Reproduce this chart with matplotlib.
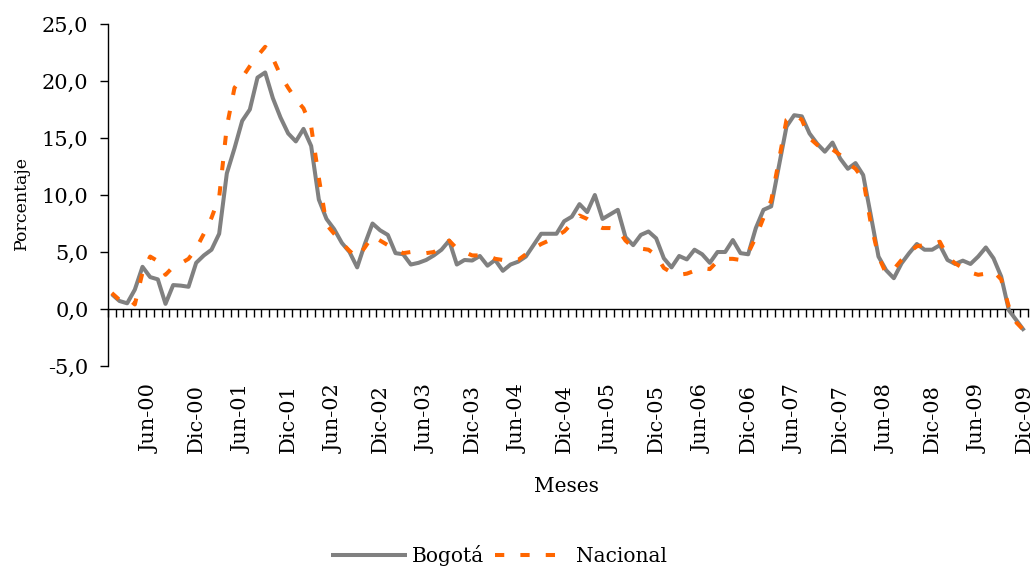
import numpy as np
import matplotlib
matplotlib.use("Agg")
import matplotlib.pyplot as plt
from matplotlib.ticker import FixedLocator, FixedFormatter, NullFormatter

plt.rcParams['font.family'] = ['DejaVu Serif']

# Monthly series, Jan-2000 .. Dec-2009 (percent)
bogota = [
    1.3, 0.7, 0.5, 1.7, 3.7, 2.8, 2.6, 0.45, 2.1, 2.05, 1.95, 4.05,
    4.7, 5.2, 6.6, 11.9, 14.1, 16.5, 17.5, 20.3, 20.75, 18.5, 16.8, 15.4,
    14.7, 15.8, 14.3, 9.6, 7.9, 7.0, 5.8, 5.0, 3.65, 5.7, 7.5, 6.9,
    6.5, 4.9, 4.8, 3.9, 4.05, 4.3, 4.7, 5.2, 6.0, 3.9, 4.3, 4.25,
    4.65, 3.8, 4.3, 3.35, 3.9, 4.15, 4.6, 5.6, 6.6, 6.6, 6.6, 7.7,
    8.1, 9.2, 8.5, 10.0, 7.9, 8.3, 8.7, 6.3, 5.6, 6.5, 6.8, 6.2,
    4.45, 3.65, 4.65, 4.35, 5.2, 4.8, 4.05, 5.0, 5.0, 6.05, 4.9, 4.8,
    7.1, 8.7, 9.0, 12.5, 16.0, 17.0, 16.9, 15.4, 14.5, 13.8, 14.6, 13.2,
    12.3, 12.8, 11.75, 8.2, 4.6, 3.4, 2.7, 4.0, 4.9, 5.7, 5.2, 5.2,
    5.6, 4.3, 3.95, 4.24, 3.95, 4.6, 5.4, 4.45, 2.85, -0.1, -1.0, -1.9,
]
nacional = [
    1.4, 0.8, 1.0, 0.4, 3.2, 4.6, 4.2, 3.0, 3.7, 4.0, 4.4, 5.3,
    6.6, 8.0, 9.8, 16.0, 19.4, 20.3, 21.3, 22.2, 23.0, 22.0, 20.5, 19.4,
    18.4, 17.6, 16.0, 11.5, 7.4, 6.6, 5.8, 5.1, 4.5, 5.4, 6.4, 6.0,
    5.6, 5.2, 4.9, 5.0, 4.95, 4.9, 5.0, 5.4, 6.0, 5.3, 5.0, 4.7,
    4.7, 4.7, 4.4, 4.3, 4.2, 4.3, 4.8, 5.3, 5.7, 6.0, 6.4, 6.8,
    7.5, 8.2, 7.9, 7.4, 7.1, 7.1, 7.0, 6.0, 5.4, 5.3, 5.2, 4.7,
    3.6, 3.2, 3.0, 3.1, 3.35, 3.6, 3.5, 4.2, 4.4, 4.4, 4.3, 4.9,
    6.3, 8.0, 9.5, 13.0, 16.6, 17.1, 16.6, 15.0, 14.4, 13.9, 14.0, 13.5,
    12.8, 12.3, 11.4, 7.5, 4.6, 3.1, 3.5, 4.3, 5.0, 5.5, 5.6, 5.7,
    5.9, 4.6, 4.0, 3.6, 3.2, 3.0, 3.1, 3.3, 2.6, 0.2, -1.2, -1.9,
]

month_abbr = ['Ene', 'Feb', 'Mar', 'Abr', 'May', 'Jun',
              'Jul', 'Ago', 'Sep', 'Oct', 'Nov', 'Dic']
years = list(range(2000, 2010))
months = [f'{m}-{y % 100:02d}' for y in years for m in month_abbr]

tick_labels = ['Jun-00', 'Dic-00', 'Jun-01', 'Dic-01', 'Jun-02', 'Dic-02',
               'Jun-03', 'Dic-03', 'Jun-04', 'Dic-04', 'Jun-05', 'Dic-05',
               'Jun-06', 'Dic-06', 'Jun-07', 'Dic-07', 'Jun-08', 'Dic-08',
               'Jun-09', 'Dic-09']
y_ticks = [-5, 0, 5, 10, 15, 20, 25]

GRAY = '#808080'
ORANGE = '#FF6600'

W, H = 1035, 570
fig = plt.figure(figsize=(W / 100, H / 100), dpi=100)
ax = fig.add_axes([108 / W, 1 - 366 / H, 920 / W, 342 / H])

x = np.arange(len(months))
ax.plot(x, bogota, color=GRAY, lw=2.9, solid_joinstyle='round',
        solid_capstyle='butt', label='Bogotá', zorder=3)
ax.plot(x, nacional, color=ORANGE, lw=2.9, linestyle=(0, (2.3, 4.0)),
        dash_capstyle='butt', label='Nacional', zorder=4)

ax.set_xlim(-0.5, len(months) - 0.5)
ax.set_ylim(y_ticks[0], y_ticks[-1])

for side in ('top', 'right'):
    ax.spines[side].set_visible(False)
ax.spines['bottom'].set_position(('data', 0))
ax.spines['left'].set_linewidth(1.0)
ax.spines['bottom'].set_linewidth(1.0)

# month boundaries as small ticks along the zero line
ax.xaxis.set_major_locator(FixedLocator(np.arange(len(months) + 1) - 0.5))
ax.xaxis.set_major_formatter(NullFormatter())
ax.tick_params(axis='x', direction='out', length=6, width=1.0, color='black')

ax.yaxis.set_major_locator(FixedLocator(y_ticks))
ax.yaxis.set_major_formatter(
    FixedFormatter([f'{v:.1f}'.replace('.', ',') for v in y_ticks]))
ax.tick_params(axis='y', direction='out', length=6, width=1.0,
               color='black', labelsize=15, pad=8)

# rotated month labels below the plotting area
for lab in tick_labels:
    ax.annotate(lab, xy=(months.index(lab), 0),
                xycoords=('data', 'axes fraction'),
                xytext=(0, -18), textcoords='offset pixels',
                rotation=90, ha='center', va='top', fontsize=15)

fig.text(21 / W, 1 - 203 / H, 'Porcentaje', rotation=90,
         ha='center', va='center', fontsize=12.5)
fig.text(566 / W, 1 - 487 / H, 'Meses', ha='center', va='center',
         fontsize=14.5)

fig.legend(loc='center', bbox_to_anchor=(499 / W, 1 - 556 / H), ncol=2,
           frameon=False, fontsize=14.5, handlelength=3.8,
           handletextpad=0.25, columnspacing=0.5)

fig.savefig('out.png', dpi=100)
